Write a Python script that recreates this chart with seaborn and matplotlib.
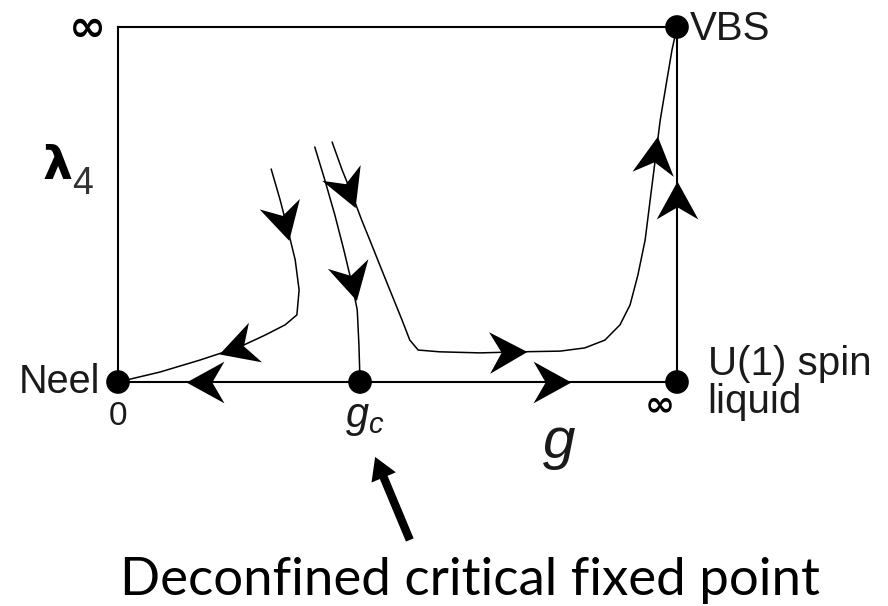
import numpy as np
import matplotlib
matplotlib.use("Agg")
import matplotlib.pyplot as plt
import seaborn as sns
from matplotlib.markers import MarkerStyle
from matplotlib.path import Path
from matplotlib.transforms import Affine2D

# RG flow lines, coupling g on x (0 .. inf squashed to 0..1), lambda_4 on y
flow_left_g = [0.274, 0.290, 0.304, 0.317, 0.324, 0.320, 0.299, 0.263, 0.218, 0.147, 0.075, 0.0]
flow_left_l = [0.600, 0.513, 0.428, 0.344, 0.259, 0.189, 0.161, 0.132, 0.099, 0.062, 0.028, 0.0]

separatrix_g = [0.352, 0.370, 0.388, 0.404, 0.419, 0.428, 0.431, 0.433]
separatrix_l = [0.662, 0.569, 0.470, 0.372, 0.273, 0.203, 0.104, 0.0]

flow_right_g = [0.383, 0.401, 0.419, 0.436, 0.454, 0.472, 0.490, 0.508, 0.522, 0.537,
                0.576, 0.648, 0.719, 0.791, 0.835, 0.871, 0.898, 0.916, 0.930, 0.943,
                0.952, 0.961, 0.970, 0.982, 0.991, 1.0]
flow_right_l = [0.676, 0.597, 0.527, 0.456, 0.386, 0.315, 0.245, 0.175, 0.118, 0.090,
                0.085, 0.082, 0.085, 0.087, 0.096, 0.118, 0.161, 0.217, 0.301, 0.400,
                0.513, 0.625, 0.738, 0.851, 0.935, 1.0]

# flows along the box edges
axis_left_g, axis_left_l = [0.433, 0.0], [0.0, 0.0]
axis_right_g, axis_right_l = [0.433, 1.0], [0.0, 0.0]
edge_right_g, edge_right_l = [1.0, 1.0], [0.0, 1.0]

# fixed points: Neel, g_c, U(1) spin liquid, VBS
fixed_g = [0.0, 0.433, 1.0, 1.0]
fixed_l = [0.0, 0.0, 0.0, 1.0]

# arrow heads: (which flow, g, lambda)
arrows = [
    ("flow_left", 0.297, 0.451),
    ("flow_left", 0.213, 0.096),
    ("separatrix", 0.419, 0.282),
    ("flow_right", 0.411, 0.541),
    ("flow_right", 0.698, 0.085),
    ("flow_right", 0.961, 0.639),
    ("axis_left", 0.156, 0.0),
    ("axis_right", 0.776, 0.0),
    ("edge_right", 1.0, 0.513),
]

flows = {
    "flow_left": (flow_left_g, flow_left_l),
    "separatrix": (separatrix_g, separatrix_l),
    "flow_right": (flow_right_g, flow_right_l),
    "axis_left": (axis_left_g, axis_left_l),
    "axis_right": (axis_right_g, axis_right_l),
    "edge_right": (edge_right_g, edge_right_l),
}

sns.set_style("white")
plt.rcParams["mathtext.fontset"] = "custom"
plt.rcParams["mathtext.it"] = "Liberation Sans:italic"
plt.rcParams["mathtext.rm"] = "Liberation Sans"

fig = plt.figure(figsize=(8.88, 6.06), dpi=100)
ax = fig.add_axes([118 / 888, 1 - 382 / 606, 559 / 888, 355 / 606])
ax.set_xlim(0, 1)
ax.set_ylim(0, 1)
ax.set_xticks([])
ax.set_yticks([])
for sp in ax.spines.values():
    sp.set_color("black")
    sp.set_linewidth(1.5)

for name in ["flow_left", "separatrix", "flow_right"]:
    g, l = flows[name]
    sns.lineplot(x=g, y=l, sort=False, estimator=None, color="black", lw=1.1, ax=ax)

sns.scatterplot(x=fixed_g, y=fixed_l, s=290, color="black", edgecolor="none",
                clip_on=False, zorder=5, ax=ax)

# notched arrow head pointing along +x
head = Path([(0.5, 0.0), (-0.5, 0.55), (-0.18, 0.0), (-0.5, -0.55), (0.5, 0.0)],
            [Path.MOVETO, Path.LINETO, Path.LINETO, Path.LINETO, Path.CLOSEPOLY])

for name, ag, al in arrows:
    g, l = flows[name]
    pts = ax.transData.transform(np.column_stack([g, l]))
    p = ax.transData.transform([ag, al])
    best, d = None, np.inf
    for i in range(len(pts) - 1):
        a, b = pts[i], pts[i + 1]
        ab = b - a
        t = np.clip(np.dot(p - a, ab) / np.dot(ab, ab), 0, 1)
        dist = np.linalg.norm(a + t * ab - p)
        if dist < d:
            best, d = ab, dist
    angle = np.degrees(np.arctan2(best[1], best[0]))
    m = MarkerStyle(head, transform=Affine2D().rotate_deg(angle))
    ax.plot([ag], [al], marker=m, ms=30, color="black", mec="none", ls="none",
            clip_on=False, zorder=6)

txt = "#1a1a1a"
ax.text(-0.054, 0.997, "∞", fontsize=32, fontweight="bold", ha="center", va="center",
        color="black", family="DejaVu Sans", clip_on=False)
ax.text(0.970, -0.065, "∞", fontsize=26, fontweight="bold", ha="center", va="center",
        color="black", family="DejaVu Sans", clip_on=False)
ax.text(-0.109, 0.608, "λ", fontsize=34, fontweight="bold", ha="center", va="center",
        color="black", family="DejaVu Sans", clip_on=False)
ax.text(-0.063, 0.558, "4", fontsize=27, ha="center", va="center", color="#333333",
        family="Liberation Sans", clip_on=False)
ax.text(1.023, 0.963, "VBS", fontsize=29, ha="left", va="baseline", color=txt,
        family="Liberation Sans", clip_on=False)
ax.text(-0.032, -0.031, "Neel", fontsize=28.5, ha="right", va="baseline", color=txt,
        family="Liberation Sans", clip_on=False)
ax.text(0.0, -0.121, "0", fontsize=24, ha="center", va="baseline", color=txt,
        family="Liberation Sans", clip_on=False)
ax.text(0.406, -0.127, r"$g_c$", fontsize=30, ha="left", va="baseline", color=txt,
        clip_on=False)
ax.text(0.758, -0.214, r"$g$", fontsize=42, ha="left", va="baseline", color=txt,
        clip_on=False)
ax.text(1.055, 0.020, "U(1) spin", fontsize=29, ha="left", va="baseline", color=txt,
        family="Liberation Sans", clip_on=False)
ax.text(1.055, -0.087, "liquid", fontsize=29, ha="left", va="baseline", color=txt,
        family="Liberation Sans", clip_on=False)

ax.annotate("", xy=(0.460, -0.211), xytext=(0.522, -0.445), annotation_clip=False,
            arrowprops=dict(facecolor="black", edgecolor="none", width=6,
                            headwidth=19, headlength=16, shrink=0))
ax.text(0.630, -0.600, "Deconfined critical fixed point", fontsize=38, ha="center",
        va="baseline", color="black", family="Lato", clip_on=False)

fig.savefig("out.png", dpi=100)
